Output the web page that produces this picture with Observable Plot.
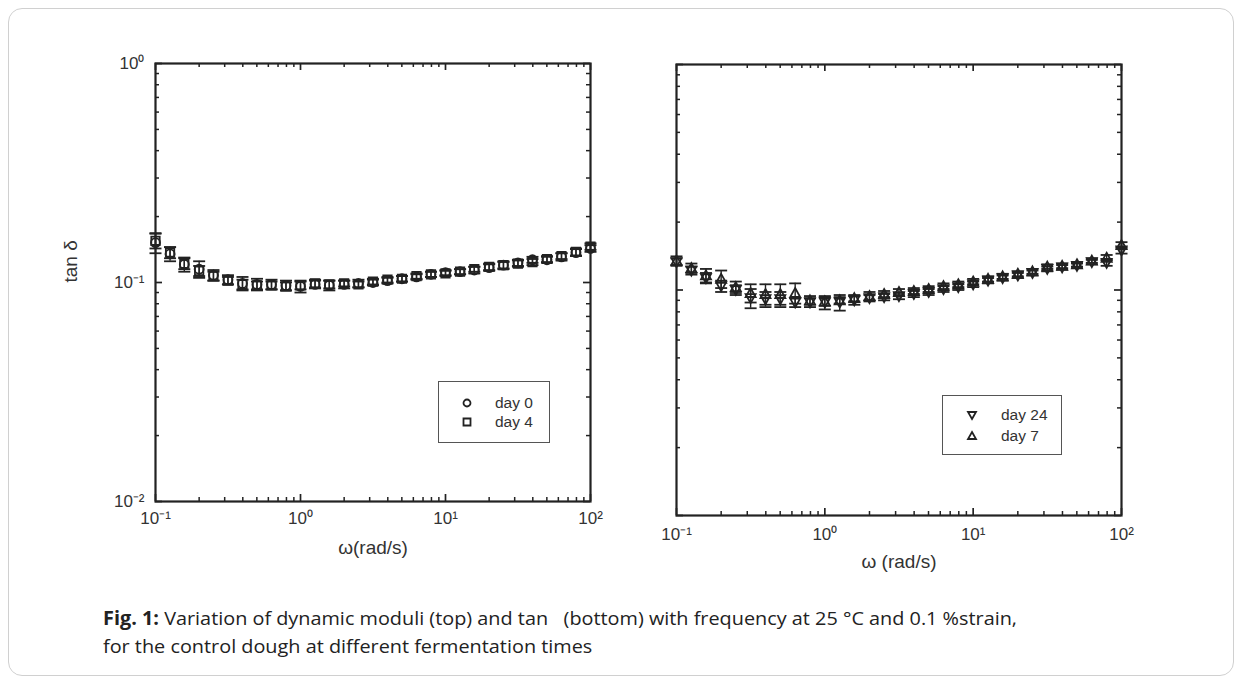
<!DOCTYPE html>
<html><head><meta charset="utf-8">
<script src="https://cdn.jsdelivr.net/npm/d3@7"></script>
<script src="https://cdn.jsdelivr.net/npm/@observablehq/plot@0.6"></script>
<style>
body{margin:0;background:#fff;}
#wrap{position:relative;width:1244px;height:687px;overflow:hidden;font-family:"Liberation Sans",Arial,sans-serif;color:#333;}
.card{position:absolute;left:8px;top:8px;width:1226px;height:668px;border:1px solid #d0d0d0;border-radius:14px;box-sizing:border-box;}
.plot{position:absolute;top:0;}
.legend{position:absolute;border:1.5px solid #555;background:#fff;box-sizing:border-box;font-size:15.5px;color:#333;}
.legend .row{position:absolute;left:0;height:18px;line-height:18px;}
.legend svg{position:absolute;}
.caption{position:absolute;left:103px;top:604px;font-family:"Open Sans",sans-serif;font-size:19px;line-height:28px;color:#222;white-space:nowrap;transform-origin:0 0;}
</style></head>
<body><div id="wrap"><div class="card"></div></div>
<script>
// ---------- data ----------
const omega = [0.1,0.126,0.158,0.2,0.251,0.316,0.398,0.501,0.631,0.794,1,1.26,1.58,2,2.51,3.16,3.98,5.01,6.31,7.94,10,12.6,15.8,20,25.1,31.6,39.8,50.1,63.1,79.4,100];
const day0  = [0.152,0.135,0.121,0.115,0.108,0.103,0.099,0.098,0.098,0.097,0.096,0.098,0.097,0.098,0.099,0.100,0.102,0.104,0.106,0.109,0.111,0.112,0.114,0.117,0.120,0.123,0.127,0.127,0.131,0.137,0.143];
const day0Err = [0.016,0.010,0.009,0.010,0.006,0.005,0.007,0.006,0.005,0.005,0.006,0.004,0.005,0.004,0.004,0.003,0.003,0.003,0.003,0.003,0.003,0.003,0.004,0.004,0.005,0.004,0.004,0.004,0.005,0.005,0.005];
const day4  = [0.155,0.137,0.122,0.113,0.107,0.102,0.098,0.097,0.097,0.096,0.097,0.099,0.098,0.099,0.098,0.101,0.103,0.104,0.107,0.109,0.110,0.112,0.115,0.118,0.120,0.122,0.124,0.128,0.132,0.138,0.146];
const day4Err = [0.012,0.008,0.007,0.006,0.005,0.004,0.005,0.004,0.004,0.004,0.004,0.004,0.004,0.003,0.003,0.003,0.003,0.003,0.003,0.003,0.003,0.003,0.003,0.004,0.004,0.004,0.004,0.004,0.004,0.005,0.005];
const day7  = [0.135,0.125,0.116,0.112,0.103,0.097,0.096,0.096,0.097,0.090,0.089,0.090,0.092,0.094,0.096,0.098,0.099,0.101,0.104,0.106,0.109,0.112,0.115,0.118,0.121,0.127,0.128,0.130,0.135,0.139,0.158];
const day7Err = [0.006,0.006,0.008,0.010,0.006,0.009,0.010,0.010,0.010,0.004,0.004,0.003,0.003,0.004,0.003,0.003,0.003,0.003,0.003,0.003,0.003,0.003,0.003,0.003,0.003,0.003,0.003,0.003,0.003,0.004,0.005];
const day24 = [0.133,0.122,0.113,0.104,0.100,0.092,0.091,0.091,0.088,0.088,0.088,0.088,0.090,0.092,0.093,0.094,0.096,0.098,0.101,0.103,0.106,0.110,0.113,0.116,0.119,0.124,0.126,0.128,0.133,0.132,0.150];
const day24Err = [0.005,0.005,0.006,0.006,0.005,0.009,0.007,0.007,0.004,0.004,0.006,0.007,0.004,0.003,0.003,0.003,0.003,0.003,0.003,0.003,0.003,0.003,0.003,0.003,0.003,0.003,0.003,0.003,0.003,0.004,0.005];

const xMajor = [0.1,1,10,100];
const xMinor = [0.2,0.3,0.4,0.5,0.6,0.7,0.8,0.9,2,3,4,5,6,7,8,9,20,30,40,50,60,70,80,90];
const yMajor = [0.01,0.1,1];
const yMinor = [0.02,0.03,0.04,0.05,0.06,0.07,0.08,0.09,0.2,0.3,0.4,0.5,0.6,0.7,0.8,0.9];
const supLabels = {"0.01":"10⁻²","0.1":"10⁻¹","1":"10⁰","10":"10¹","100":"10²"};

// ---------- symbols ----------
const cap = {draw(ctx){ ctx.moveTo(-6,0); ctx.lineTo(6,0); }};
const triUp = {draw(ctx){ ctx.moveTo(0,-5); ctx.lineTo(5,4); ctx.lineTo(-5,4); ctx.closePath(); }};
const triDown = {draw(ctx){ ctx.moveTo(0,5); ctx.lineTo(5,-4); ctx.lineTo(-5,-4); ctx.closePath(); }};
const sq = {draw(ctx){ ctx.rect(-4.2,-4.2,8.4,8.4); }};
const circ = {draw(ctx){ ctx.moveTo(4.5,0); ctx.arc(0,0,4.5,0,2*Math.PI); }};

function rows(vals, errs){ return omega.map((w,i)=>({w, v:vals[i], lo:vals[i]-errs[i], hi:vals[i]+errs[i]})); }

function seriesMarks(data, symbol){
  return [
    Plot.ruleX(data, {x:"w", y1:"lo", y2:"hi", stroke:"#222", strokeWidth:1.4}),
    Plot.dot(data, {x:"w", y:"lo", symbol:cap, stroke:"#222", strokeWidth:1.8, fill:"none"}),
    Plot.dot(data, {x:"w", y:"hi", symbol:cap, stroke:"#222", strokeWidth:1.8, fill:"none"}),
    Plot.dot(data, {x:"w", y:"v", symbol, stroke:"#222", strokeWidth:1.8, fill:"none"})
  ];
}

function makePlot({width,height,ml,mr,mt,mb,series,yLabels,xTitle,yTitle,xPad}){
  const iw = width-ml-mr, ih = height-mt-mb;
  const marks = [];
  marks.push(Plot.ruleX(xMinor,{insetTop:ih-4, stroke:"#222", strokeWidth:1.5}));
  marks.push(Plot.ruleX(xMinor,{insetBottom:ih-4, stroke:"#222", strokeWidth:1.5}));
  marks.push(Plot.ruleX(xMajor,{insetTop:ih-7, stroke:"#222", strokeWidth:1.7}));
  marks.push(Plot.ruleX(xMajor,{insetBottom:ih-7, stroke:"#222", strokeWidth:1.7}));
  marks.push(Plot.ruleY(yMinor,{insetRight:iw-4, stroke:"#222", strokeWidth:1.5}));
  marks.push(Plot.ruleY(yMinor,{insetLeft:iw-4, stroke:"#222", strokeWidth:1.5}));
  marks.push(Plot.ruleY(yMajor,{insetRight:iw-7, stroke:"#222", strokeWidth:1.7}));
  marks.push(Plot.ruleY(yMajor,{insetLeft:iw-7, stroke:"#222", strokeWidth:1.7}));
  marks.push(Plot.axisX({ticks:xMajor, tickSize:0, tickPadding:xPad, tickFormat:d=>supLabels[String(d)], label:null, fill:"#333", fontSize:17}));
  if (yLabels) marks.push(Plot.axisY({ticks:yMajor, tickSize:0, tickPadding:11, tickFormat:d=>supLabels[String(d)], label:null, fill:"#333", fontSize:17}));
  for (const s of series) marks.push(...seriesMarks(s.data, s.symbol));
  marks.push(Plot.frame({stroke:"#222", strokeWidth:2.2}));
  marks.push(Plot.text([xTitle],{frameAnchor:"bottom", dy:52, text:d=>d, fontSize:19, fill:"#333"}));
  if (yTitle) marks.push(Plot.text([yTitle],{frameAnchor:"left", dx:-85, rotate:-90, text:d=>d, fontSize:19, fill:"#333"}));
  const svg = Plot.plot({
    width, height, marginLeft:ml, marginRight:mr, marginTop:mt, marginBottom:mb,
    style:{fontFamily:"Liberation Sans, Arial, sans-serif", fontSize:"17px", background:"transparent", overflow:"visible"},
    x:{type:"log", domain:[0.1,100], axis:null},
    y:{type:"log", domain:[0.01,1], axis:null},
    marks
  });
  return svg;
}

const wrap = document.getElementById("wrap");

const left = makePlot({width:640,height:580,ml:155,mr:50,mt:63,mb:79,
  series:[{data:rows(day0,day0Err),symbol:circ},{data:rows(day4,day4Err),symbol:sq}],
  yLabels:true, xTitle:"ω(rad/s)", yTitle:"tan δ", xPad:10});
left.classList.add("plot"); left.style.left="0px";
wrap.appendChild(left);

const right = makePlot({width:560,height:600,ml:36,mr:79,mt:64,mb:85,
  series:[{data:rows(day24,day24Err),symbol:triDown},{data:rows(day7,day7Err),symbol:triUp}],
  yLabels:false, xTitle:"ω (rad/s)", yTitle:null, xPad:12});
right.classList.add("plot"); right.style.left="640px";
wrap.appendChild(right);

// legends
function legend(x,y,w,h,items){
  const d = document.createElement("div");
  d.className="legend";
  Object.assign(d.style,{left:x+"px",top:y+"px",width:w+"px",height:h+"px"});
  items.forEach((it)=>{
    const r=document.createElement("div"); r.className="row";
    r.style.top=(it.top)+"px"; r.style.left=it.tx+"px"; r.textContent=it.label; d.appendChild(r);
    const s=d3.create("svg").attr("width",14).attr("height",14).style("left",(it.sx-7)+"px").style("top",(it.top+2)+"px");
    s.append("path").attr("d",it.path).attr("transform","translate(7,7)").attr("fill","none").attr("stroke","#222").attr("stroke-width",1.8);
    d.appendChild(s.node());
  });
  wrap.appendChild(d);
}
const pth = sym => { const p=d3.path(); sym.draw(p); return p.toString(); };
const circL = {draw(ctx){ ctx.moveTo(3.5,0); ctx.arc(0,0,3.5,0,2*Math.PI); }};
const sqL = {draw(ctx){ ctx.rect(-3.5,-3.5,7,7); }};
const upL = {draw(ctx){ ctx.moveTo(0,-4); ctx.lineTo(4,3); ctx.lineTo(-4,3); ctx.closePath(); }};
const dnL = {draw(ctx){ ctx.moveTo(0,4); ctx.lineTo(4,-3); ctx.lineTo(-4,-3); ctx.closePath(); }};
legend(438,381,112,62,[
  {label:"day 0", top:12, tx:56, sx:28, path:pth(circL)},
  {label:"day 4", top:31, tx:56, sx:28, path:pth(sqL)}
]);
legend(942,395,120,60,[
  {label:"day 24", top:10, tx:58, sx:29, path:pth(dnL)},
  {label:"day 7", top:31, tx:58, sx:29, path:pth(upL)}
]);

// caption
const cap0 = document.createElement("div");
cap0.className="caption";
cap0.innerHTML = '<div id="l1"><b>Fig. 1:</b> Variation of dynamic moduli (top) and tan &nbsp; (bottom) with frequency at 25 °C and 0.1 %strain,</div><div>for the control dough at different fermentation times</div>';
wrap.appendChild(cap0);
const l1 = document.getElementById("l1"); l1.style.display="inline-block";
const ww = l1.getBoundingClientRect().width;
cap0.style.transform = `scaleX(${914/ww})`;
</script></body></html>
